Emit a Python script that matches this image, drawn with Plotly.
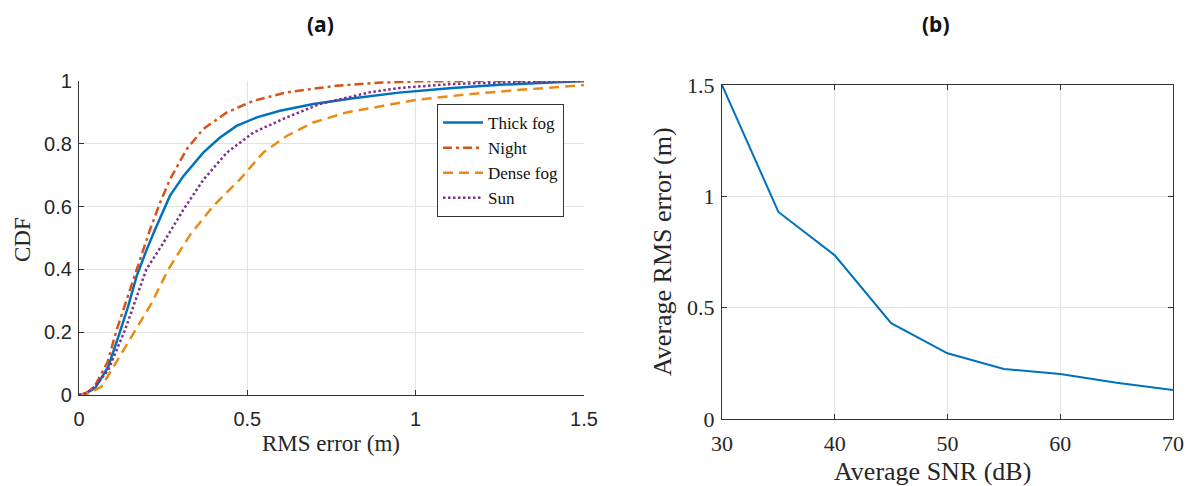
import plotly.graph_objects as go

# ---- Data: panel (a) CDF of RMS error ----
thick_fog_x = [0, 0.02, 0.0475, 0.087, 0.117, 0.146, 0.171, 0.201, 0.226, 0.27, 0.31, 0.369, 0.419, 0.468, 0.528, 0.597, 0.696, 0.815, 0.95, 1.1, 1.25, 1.4, 1.5]
thick_fog_y = [0, 0.005, 0.021, 0.09, 0.186, 0.282, 0.378, 0.463, 0.527, 0.634, 0.697, 0.772, 0.82, 0.857, 0.884, 0.905, 0.927, 0.945, 0.963, 0.977, 0.988, 0.996, 1.0]

night_x = [0, 0.02, 0.045, 0.085, 0.112, 0.143, 0.171, 0.211, 0.24, 0.27, 0.32, 0.369, 0.439, 0.518, 0.617, 0.765, 0.9, 1.013, 1.2, 1.5]
night_y = [0, 0.006, 0.025, 0.105, 0.208, 0.31, 0.40, 0.527, 0.61, 0.686, 0.783, 0.847, 0.90, 0.937, 0.964, 0.985, 0.995, 0.999, 1.0, 1.0]

dense_fog_x = [0, 0.03, 0.067, 0.097, 0.157, 0.216, 0.265, 0.33, 0.399, 0.478, 0.547, 0.617, 0.696, 0.795, 0.904, 1.003, 1.15, 1.3, 1.5]
dense_fog_y = [0, 0.005, 0.027, 0.08, 0.186, 0.293, 0.40, 0.51, 0.602, 0.687, 0.772, 0.825, 0.868, 0.90, 0.921, 0.94, 0.957, 0.971, 0.987]

sun_x = [0, 0.02, 0.0475, 0.087, 0.137, 0.2, 0.245, 0.28, 0.31, 0.369, 0.439, 0.518, 0.617, 0.716, 0.864, 0.953, 1.1, 1.3, 1.5]
sun_y = [0, 0.005, 0.027, 0.08, 0.208, 0.40, 0.475, 0.535, 0.59, 0.685, 0.772, 0.836, 0.884, 0.927, 0.964, 0.978, 0.99, 0.997, 1.0]

# ---- Data: panel (b) average RMS error vs SNR ----
snr_db = [30, 35, 40, 45, 50, 55, 60, 65, 70]
avg_rms = [1.5, 0.93, 0.735, 0.43, 0.295, 0.225, 0.202, 0.163, 0.13]

a_xticks = [0, 0.5, 1, 1.5]
a_yticks = [0, 0.2, 0.4, 0.6, 0.8, 1]
b_xticks = [30, 40, 50, 60, 70]
b_yticks = [0, 0.5, 1, 1.5]

W, H = 1189, 486
BLUE = "#0072BD"
RED = "#D95319"
ORANGE = "#EB8A14"
PURPLE = "#7E2F8E"
AX = "#333333"
GRID = "#e3e3e3"
SERIF = "Liberation Serif, Times New Roman, serif"
SANS = "Liberation Sans, Arial, sans-serif"

fig = go.Figure()
fig.add_trace(go.Scatter(x=thick_fog_x, y=thick_fog_y, mode="lines", name="Thick fog",
                         line=dict(color=BLUE, width=2.5), xaxis="x", yaxis="y"))
fig.add_trace(go.Scatter(x=night_x, y=night_y, mode="lines", name="Night",
                         line=dict(color=RED, width=2.5, dash="9px,4px,3px,4px"), xaxis="x", yaxis="y"))
fig.add_trace(go.Scatter(x=dense_fog_x, y=dense_fog_y, mode="lines", name="Dense fog",
                         line=dict(color=ORANGE, width=2.5, dash="10px,6px"), xaxis="x", yaxis="y"))
fig.add_trace(go.Scatter(x=sun_x, y=sun_y, mode="lines", name="Sun",
                         line=dict(color=PURPLE, width=2.5, dash="2.5px,2.5px"), xaxis="x", yaxis="y"))
fig.add_trace(go.Scatter(x=snr_db, y=avg_rms, mode="lines", showlegend=False,
                         line=dict(color=BLUE, width=2), xaxis="x2", yaxis="y2"))

common = dict(ticks="inside", ticklen=5, tickcolor=AX, showgrid=True, gridcolor=GRID, gridwidth=1,
              zeroline=False, showline=True, linecolor=AX, linewidth=1.2, automargin=False)

fig.update_layout(
    width=W, height=H,
    margin=dict(l=0, r=0, t=0, b=0, pad=0, autoexpand=False),
    paper_bgcolor="white", plot_bgcolor="white",
    xaxis=dict(domain=[79 / W, 584 / W], anchor="y", range=[0, 1.5], tickvals=a_xticks,
               tickfont=dict(family=SANS, size=20, color="#262626"), ticklabelstandoff=6, **common),
    yaxis=dict(domain=[1 - 395 / H, 1 - 81 / H], anchor="x", range=[0, 1], tickvals=a_yticks,
               tickfont=dict(family=SANS, size=20, color="#262626"), ticklabelstandoff=2, **common),
    xaxis2=dict(domain=[722 / W, 1173 / W], anchor="y2", range=[30, 70], tickvals=b_xticks,
                mirror="ticks", tickfont=dict(family=SERIF, size=22, color="#262626"),
                ticklabelstandoff=4, **common),
    yaxis2=dict(domain=[1 - 419 / H, 1 - 85 / H], anchor="x2", range=[0, 1.5], tickvals=b_yticks,
                mirror="ticks", tickfont=dict(family=SERIF, size=22, color="#262626"),
                ticklabelstandoff=2, **common),
    legend=dict(x=437 / W, y=1 - 104 / H, xanchor="left", yanchor="top",
                bgcolor="white", bordercolor="#333333", borderwidth=1,
                font=dict(family=SERIF, size=17, color="#111111"),
                tracegroupgap=0, itemwidth=40),
    showlegend=True,
)

ann = [
    dict(text="<b>(a)</b>", x=320 / W, y=1 - 24 / H, font=dict(family="Noto Sans", size=21, color="#111")),
    dict(text="<b>(b)</b>", x=936 / W, y=1 - 24 / H, font=dict(family="Noto Sans", size=21, color="#111")),
    dict(text="RMS error (m)", x=331 / W, y=1 - 443 / H, font=dict(family=SERIF, size=23, color="#262626")),
    dict(text="CDF", x=22 / W, y=1 - 240 / H, textangle=-90, font=dict(family=SERIF, size=23, color="#262626")),
    dict(text="Average SNR (dB)", x=932 / W, y=1 - 471 / H, font=dict(family=SERIF, size=26, color="#262626")),
    dict(text="Average RMS error (m)", x=662 / W, y=1 - 252 / H, textangle=-90,
         font=dict(family=SERIF, size=26, color="#262626")),
]
for a in ann:
    a.update(xref="paper", yref="paper", showarrow=False, xanchor="center", yanchor="middle")
fig.update_layout(annotations=ann)

fig.write_html("out.html", config={"displayModeBar": False},
               post_script="document.body.style.margin='0';document.body.style.overflow='hidden';")
